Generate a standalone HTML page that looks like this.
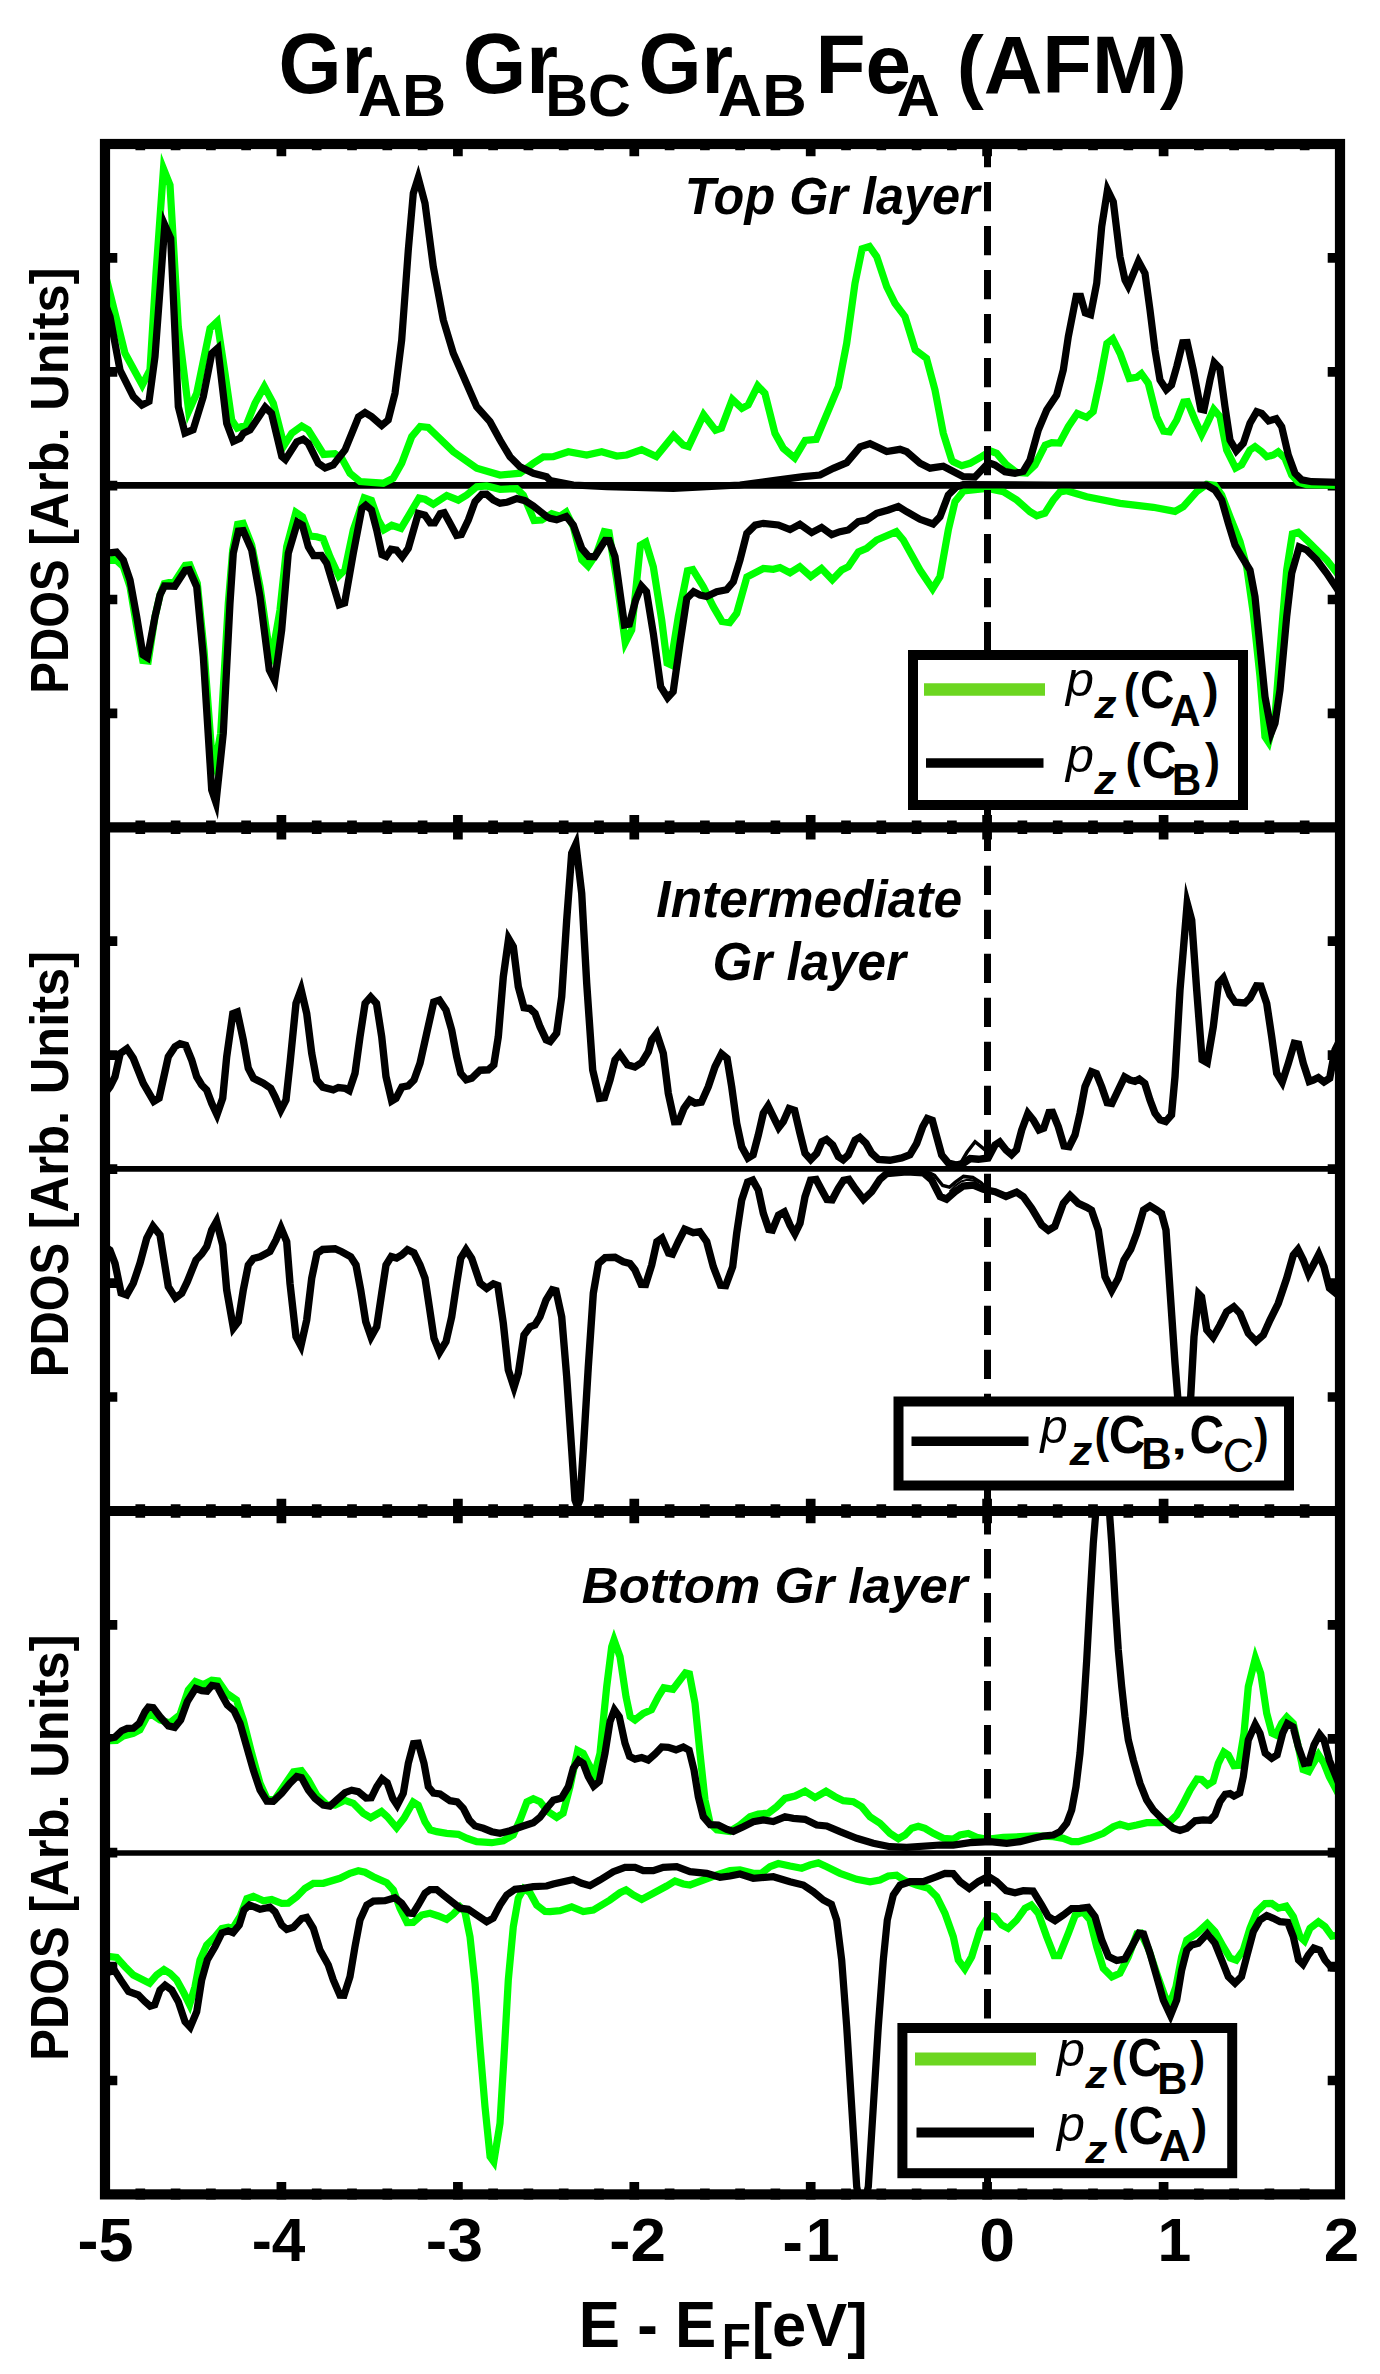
<!DOCTYPE html>
<html><head><meta charset="utf-8"><title>PDOS</title>
<style>html,body{margin:0;padding:0;background:#fff}body{width:1380px;height:2374px;overflow:hidden}</style>
</head><body>
<svg width="1380" height="2374" viewBox="0 0 1380 2374" style="display:block">
<rect x="0" y="0" width="1380" height="2374" fill="#fff"/>
<defs>
<clipPath id="c1"><rect x="105.0" y="144.0" width="1235.0" height="683.3"/></clipPath>
<clipPath id="c2"><rect x="105.0" y="827.3" width="1235.0" height="683.7"/></clipPath>
<clipPath id="c3"><rect x="105.0" y="1511.0" width="1235.0" height="683.4000000000001"/></clipPath>
</defs>
<path d="M140.3,138.9V150.3M175.6,138.9V150.3M210.9,138.9V150.3M246.1,138.9V150.3M281.4,138.9V156.3M316.7,138.9V150.3M352.0,138.9V150.3M387.3,138.9V150.3M422.6,138.9V150.3M457.9,138.9V156.3M493.1,138.9V150.3M528.4,138.9V150.3M563.7,138.9V150.3M599.0,138.9V150.3M634.3,138.9V156.3M669.6,138.9V150.3M704.9,138.9V150.3M740.1,138.9V150.3M775.4,138.9V150.3M810.7,138.9V156.3M846.0,138.9V150.3M881.3,138.9V150.3M916.6,138.9V150.3M951.9,138.9V150.3M987.1,138.9V156.3M1022.4,138.9V150.3M1057.7,138.9V150.3M1093.0,138.9V150.3M1128.3,138.9V150.3M1163.6,138.9V156.3M1198.9,138.9V150.3M1234.1,138.9V150.3M1269.4,138.9V150.3M1304.7,138.9V150.3M140.3,820.6V834.0M175.6,820.6V834.0M210.9,820.6V834.0M246.1,820.6V834.0M281.4,815.0V839.6M316.7,820.6V834.0M352.0,820.6V834.0M387.3,820.6V834.0M422.6,820.6V834.0M457.9,815.0V839.6M493.1,820.6V834.0M528.4,820.6V834.0M563.7,820.6V834.0M599.0,820.6V834.0M634.3,815.0V839.6M669.6,820.6V834.0M704.9,820.6V834.0M740.1,820.6V834.0M775.4,820.6V834.0M810.7,815.0V839.6M846.0,820.6V834.0M881.3,820.6V834.0M916.6,820.6V834.0M951.9,820.6V834.0M987.1,815.0V839.6M1022.4,820.6V834.0M1057.7,820.6V834.0M1093.0,820.6V834.0M1128.3,820.6V834.0M1163.6,815.0V839.6M1198.9,820.6V834.0M1234.1,820.6V834.0M1269.4,820.6V834.0M1304.7,820.6V834.0M140.3,1504.3V1517.7M175.6,1504.3V1517.7M210.9,1504.3V1517.7M246.1,1504.3V1517.7M281.4,1498.7V1523.3M316.7,1504.3V1517.7M352.0,1504.3V1517.7M387.3,1504.3V1517.7M422.6,1504.3V1517.7M457.9,1498.7V1523.3M493.1,1504.3V1517.7M528.4,1504.3V1517.7M563.7,1504.3V1517.7M599.0,1504.3V1517.7M634.3,1498.7V1523.3M669.6,1504.3V1517.7M704.9,1504.3V1517.7M740.1,1504.3V1517.7M775.4,1504.3V1517.7M810.7,1498.7V1523.3M846.0,1504.3V1517.7M881.3,1504.3V1517.7M916.6,1504.3V1517.7M951.9,1504.3V1517.7M987.1,1498.7V1523.3M1022.4,1504.3V1517.7M1057.7,1504.3V1517.7M1093.0,1504.3V1517.7M1128.3,1504.3V1517.7M1163.6,1498.7V1523.3M1198.9,1504.3V1517.7M1234.1,1504.3V1517.7M1269.4,1504.3V1517.7M1304.7,1504.3V1517.7M140.3,2188.5V2199.5M175.6,2188.5V2199.5M210.9,2188.5V2199.5M246.1,2188.5V2199.5M281.4,2182.1V2199.5M316.7,2188.5V2199.5M352.0,2188.5V2199.5M387.3,2188.5V2199.5M422.6,2188.5V2199.5M457.9,2182.1V2199.5M493.1,2188.5V2199.5M528.4,2188.5V2199.5M563.7,2188.5V2199.5M599.0,2188.5V2199.5M634.3,2182.1V2199.5M669.6,2188.5V2199.5M704.9,2188.5V2199.5M740.1,2188.5V2199.5M775.4,2188.5V2199.5M810.7,2182.1V2199.5M846.0,2188.5V2199.5M881.3,2188.5V2199.5M916.6,2188.5V2199.5M951.9,2188.5V2199.5M987.1,2182.1V2199.5M1022.4,2188.5V2199.5M1057.7,2188.5V2199.5M1093.0,2188.5V2199.5M1128.3,2188.5V2199.5M1163.6,2182.1V2199.5M1198.9,2188.5V2199.5M1234.1,2188.5V2199.5M1269.4,2188.5V2199.5M1304.7,2188.5V2199.5" stroke="#000" stroke-width="9.7" fill="none"/>
<path d="M109.1,257.9h8.2M1335.9,257.9h-8.2M109.1,371.8h8.2M1335.9,371.8h-8.2M109.1,485.6h8.2M1335.9,485.6h-8.2M109.1,599.5h8.2M1335.9,599.5h-8.2M109.1,713.4h8.2M1335.9,713.4h-8.2M109.1,941.2h8.2M1335.9,941.2h-8.2M109.1,1055.2h8.2M1335.9,1055.2h-8.2M109.1,1169.2h8.2M1335.9,1169.2h-8.2M109.1,1283.1h8.2M1335.9,1283.1h-8.2M109.1,1397.0h8.2M1335.9,1397.0h-8.2M109.1,1624.9h8.2M1335.9,1624.9h-8.2M109.1,1738.8h8.2M1335.9,1738.8h-8.2M109.1,1852.7h8.2M1335.9,1852.7h-8.2M109.1,1966.6h8.2M1335.9,1966.6h-8.2M109.1,2080.5h8.2M1335.9,2080.5h-8.2" stroke="#000" stroke-width="9.7" fill="none"/>
<line x1="105.0" x2="1340.0" y1="485.4" y2="485.4" stroke="#000" stroke-width="6.6"/>
<line x1="105.0" x2="1340.0" y1="1168.9" y2="1168.9" stroke="#000" stroke-width="5.9"/>
<line x1="105.0" x2="1340.0" y1="1853.0" y2="1853.0" stroke="#000" stroke-width="5.7"/>
<path d="M105.0,273.3 L116.7,320.0 L125.0,353.3 L142.3,385.0 L150.0,370.0 L156.0,273.3 L163.5,168.8 L170.0,185.0 L178.3,326.7 L188.7,411.1 L196.7,393.3 L210.1,328.4 L217.2,321.6 L225.0,373.3 L231.7,420.0 L237.2,428.2 L246.4,424.8 L255.0,403.3 L264.3,386.6 L273.3,403.3 L284.1,445.4 L291.7,433.3 L301.7,426.1 L308.3,430.0 L323.7,454.4 L334.9,453.6 L341.7,458.3 L350.0,473.3 L360.1,481.5 L383.3,483.2 L393.2,478.2 L401.7,463.3 L411.7,436.7 L420.2,426.5 L428.2,427.5 L453.3,451.7 L476.7,468.3 L500.0,475.0 L520.0,473.2 L533.3,463.3 L543.4,456.8 L553.3,456.7 L568.3,451.7 L586.7,455.0 L601.7,451.7 L616.7,456.0 L626.7,455.0 L641.7,449.6 L656.3,456.5 L673.5,435.4 L683.3,445.0 L688.6,446.6 L703.6,414.7 L715.5,430.2 L721.4,428.1 L732.3,399.3 L741.9,408.4 L748.2,404.9 L757.7,385.8 L764.9,393.4 L775.0,433.3 L783.3,448.3 L794.7,457.9 L805.2,440.4 L816.2,439.4 L830.0,406.7 L838.3,386.7 L846.7,343.3 L855.0,283.3 L862.1,248.8 L869.5,246.5 L876.7,256.7 L886.7,286.7 L895.0,303.3 L905.0,316.7 L915.2,349.9 L926.5,358.4 L935.0,390.0 L943.3,433.3 L951.7,460.0 L953.3,461.7 L961.7,465.7 L970.0,463.3 L981.7,456.7 L990.7,451.1 L996.7,453.3 L1006.7,465.0 L1016.7,472.5 L1026.6,473.0 L1035.0,465.0 L1045.2,445.2 L1051.7,442.7 L1059.5,443.1 L1068.3,426.7 L1077.2,413.5 L1086.5,417.4 L1093.2,411.6 L1100.0,380.0 L1106.9,343.5 L1112.8,338.8 L1120.0,353.3 L1129.3,378.4 L1136.7,377.3 L1141.4,373.6 L1148.3,383.3 L1156.7,416.7 L1163.6,431.2 L1169.6,431.8 L1176.7,420.0 L1183.7,402.1 L1187.4,401.6 L1195.0,420.0 L1201.7,434.5 L1207.3,423.3 L1213.7,409.4 L1220.0,416.7 L1226.7,450.0 L1235.6,468.1 L1241.6,464.9 L1250.0,450.0 L1255.0,446.6 L1261.7,451.7 L1266.8,456.8 L1273.3,455.0 L1278.2,451.8 L1285.0,458.3 L1291.7,475.0 L1298.4,482.2 L1306.7,484.7 L1340.0,485.3" fill="none" stroke="#00ff00" stroke-width="7.25" stroke-linejoin="miter" stroke-miterlimit="10" clip-path="url(#c1)" />
<path d="M105.0,561.7 L114.9,558.9 L123.3,566.7 L130.0,586.7 L136.7,626.7 L142.8,660.5 L148.2,661.1 L155.0,616.7 L160.0,595.0 L164.3,583.7 L174.8,581.4 L185.2,565.3 L189.8,564.8 L197.3,583.3 L204.0,650.0 L211.7,753.3 L215.0,764.2 L220.7,733.3 L228.3,603.3 L232.7,550.0 L237.6,524.3 L243.1,523.3 L251.7,545.0 L260.0,586.7 L268.3,643.3 L272.4,654.1 L280.0,610.0 L286.7,546.7 L295.9,512.3 L302.5,516.8 L309.8,536.0 L316.7,536.7 L323.1,538.6 L330.0,556.7 L338.8,575.8 L344.9,569.9 L353.3,530.0 L364.2,497.8 L371.4,500.3 L378.3,520.0 L383.9,529.8 L391.7,525.3 L401.0,528.3 L410.0,513.3 L419.0,498.1 L425.0,499.3 L433.3,504.2 L446.7,495.5 L458.3,500.2 L466.7,495.0 L476.7,486.8 L486.7,486.0 L500.0,489.3 L516.6,488.6 L523.3,495.0 L534.1,520.4 L541.7,520.0 L551.7,513.7 L559.9,516.3 L566.1,512.1 L573.3,526.7 L581.8,559.9 L588.1,566.1 L596.7,553.3 L604.3,531.6 L609.0,532.6 L616.7,580.0 L625.3,642.5 L631.7,630.0 L640.4,545.2 L645.8,542.1 L653.3,566.7 L661.7,620.0 L667.1,663.0 L670.6,664.6 L678.3,616.7 L687.5,570.8 L692.8,569.6 L703.3,586.7 L713.3,606.7 L721.9,621.4 L729.7,622.6 L736.7,613.3 L746.9,576.9 L763.4,568.5 L773.3,569.3 L780.0,567.6 L790.0,572.8 L799.8,566.7 L810.8,576.5 L821.5,568.5 L832.3,579.7 L841.7,570.0 L848.3,566.7 L858.4,551.8 L866.7,548.3 L876.7,540.0 L896.3,531.6 L903.3,540.0 L920.0,570.0 L932.6,588.8 L940.0,576.7 L948.3,530.0 L955.0,501.7 L963.5,490.9 L986.7,488.3 L1003.3,491.7 L1016.7,500.0 L1030.0,511.7 L1036.7,515.7 L1044.9,513.1 L1053.3,500.0 L1060.1,491.9 L1066.7,490.7 L1086.7,496.7 L1120.0,503.3 L1153.3,507.3 L1175.0,511.4 L1183.3,506.7 L1196.7,491.7 L1206.7,484.3 L1214.8,485.3 L1221.7,495.0 L1230.0,516.7 L1240.0,541.7 L1246.7,566.7 L1253.3,613.3 L1260.0,676.7 L1265.0,736.7 L1268.6,742.2 L1275.0,716.7 L1281.7,630.0 L1286.7,570.0 L1292.4,533.9 L1298.2,532.2 L1306.7,540.0 L1316.7,550.0 L1326.7,560.0 L1340.0,576.7" fill="none" stroke="#00ff00" stroke-width="7.25" stroke-linejoin="miter" stroke-miterlimit="10" clip-path="url(#c1)" />
<path d="M105.0,303.3 L110.0,316.7 L120.0,370.0 L133.3,396.7 L141.9,405.1 L149.0,401.4 L155.0,356.7 L164.8,225.0 L170.7,238.3 L178.3,406.7 L185.0,433.1 L193.1,429.7 L203.3,396.7 L211.8,353.4 L217.8,348.1 L226.7,423.3 L233.4,441.4 L240.0,438.3 L243.3,433.3 L250.0,430.0 L256.7,420.0 L265.2,407.2 L271.5,413.4 L281.8,456.6 L285.4,459.6 L296.8,441.8 L303.2,439.1 L308.3,443.3 L318.3,463.3 L325.1,467.9 L333.2,464.9 L345.0,450.0 L358.5,416.8 L365.0,412.6 L371.7,416.7 L381.7,425.5 L388.2,419.9 L395.0,393.3 L401.7,340.0 L408.3,250.0 L413.3,193.3 L418.2,177.8 L425.0,203.3 L433.3,266.7 L443.3,320.0 L453.3,353.3 L476.7,406.7 L490.0,421.7 L500.0,440.0 L510.0,456.7 L520.0,466.7 L533.3,473.3 L546.6,476.8 L550.1,480.5 L573.3,485.0 L606.7,486.7 L673.3,488.3 L740.0,485.0 L773.3,480.7 L803.3,476.7 L820.0,475.0 L833.3,468.3 L846.7,462.7 L860.1,446.8 L870.0,443.6 L876.7,446.7 L886.7,451.5 L900.0,449.3 L906.7,451.7 L920.0,463.3 L930.0,468.2 L943.3,466.2 L956.7,473.3 L963.3,476.7 L974.9,477.0 L981.7,470.0 L988.6,462.7 L995.0,465.0 L1005.0,471.7 L1015.0,473.3 L1023.2,471.4 L1030.0,460.0 L1038.3,430.0 L1046.7,410.0 L1056.7,395.0 L1063.3,370.0 L1068.3,336.7 L1076.2,296.4 L1080.6,296.4 L1085.3,313.0 L1090.6,314.8 L1096.7,283.3 L1101.7,226.7 L1107.5,189.9 L1113.3,201.7 L1120.0,256.7 L1125.0,280.0 L1128.2,286.0 L1138.5,261.3 L1145.0,273.3 L1150.0,310.0 L1155.0,350.0 L1160.0,380.0 L1166.3,389.6 L1171.5,384.9 L1176.7,366.7 L1182.7,342.8 L1187.2,342.5 L1193.3,370.0 L1200.8,409.3 L1203.9,410.0 L1210.0,380.0 L1214.2,362.5 L1219.8,368.4 L1225.0,406.7 L1230.0,440.0 L1236.3,450.9 L1243.3,443.3 L1250.0,423.3 L1256.7,411.7 L1261.7,413.3 L1268.6,420.9 L1276.2,418.7 L1281.7,426.7 L1288.3,455.0 L1295.0,473.3 L1301.7,479.9 L1311.7,481.7 L1340.0,482.3" fill="none" stroke="#000" stroke-width="7.25" stroke-linejoin="miter" stroke-miterlimit="10" clip-path="url(#c1)" />
<path d="M105.0,553.3 L116.5,552.1 L123.3,560.0 L130.0,580.0 L136.7,616.7 L143.0,654.8 L147.3,657.6 L155.0,616.7 L160.0,595.0 L164.5,585.9 L174.8,586.2 L185.2,570.3 L189.2,569.8 L196.7,586.7 L203.3,656.7 L211.7,790.0 L216.0,802.7 L223.3,733.3 L230.0,603.3 L233.3,553.3 L238.4,531.2 L243.2,530.7 L251.7,550.0 L260.0,596.7 L269.3,670.0 L274.7,680.7 L281.7,630.0 L288.3,553.3 L297.5,522.2 L302.4,525.2 L308.3,546.7 L313.6,555.5 L321.4,555.4 L326.7,563.3 L339.2,604.9 L344.6,603.0 L353.3,553.3 L361.9,508.4 L365.7,505.2 L371.5,510.1 L376.7,530.0 L382.0,554.7 L386.2,556.5 L391.1,549.3 L396.5,550.2 L402.2,557.0 L408.3,548.3 L418.3,513.4 L424.9,515.2 L430.2,522.9 L434.7,522.9 L440.2,513.6 L444.2,512.7 L450.0,523.3 L456.6,535.4 L461.4,534.6 L468.3,520.0 L475.0,501.7 L481.8,494.3 L486.6,494.2 L493.3,500.0 L500.0,503.2 L506.7,502.3 L516.7,498.5 L525.0,500.7 L533.3,506.0 L546.7,516.7 L550.0,518.3 L556.7,519.8 L566.3,516.4 L573.3,525.0 L581.7,548.3 L588.5,556.4 L594.7,556.8 L605.2,540.4 L609.2,540.5 L615.0,556.7 L624.5,625.1 L629.3,624.2 L635.7,600.0 L641.5,586.1 L646.5,591.7 L653.3,633.3 L660.7,686.7 L667.6,697.7 L673.2,691.6 L680.0,643.3 L686.8,598.4 L693.6,591.6 L700.0,595.0 L706.6,596.5 L716.7,591.7 L726.6,589.8 L733.3,581.7 L740.0,560.0 L746.8,533.4 L755.1,525.1 L763.3,523.3 L778.3,525.0 L790.0,529.6 L799.9,524.2 L811.7,532.6 L821.6,527.4 L831.7,534.6 L840.0,531.7 L848.3,530.0 L858.3,521.7 L866.7,520.0 L876.7,513.3 L888.3,510.0 L898.3,506.4 L906.7,511.7 L920.0,519.3 L933.1,524.0 L940.0,516.7 L948.3,495.0 L956.7,486.7 L963.3,484.7 L1053.3,485.0 L1206.6,485.1 L1215.0,490.0 L1221.7,500.0 L1228.3,523.3 L1235.0,545.0 L1241.7,556.7 L1250.0,570.0 L1255.0,596.7 L1260.0,646.7 L1265.0,696.7 L1271.5,732.1 L1275.0,723.3 L1280.0,690.0 L1286.7,616.7 L1291.7,573.3 L1299.2,546.9 L1306.7,550.0 L1316.7,560.0 L1326.7,573.3 L1340.0,593.3" fill="none" stroke="#000" stroke-width="7.25" stroke-linejoin="miter" stroke-miterlimit="10" clip-path="url(#c1)" />
<path d="M105.0,1093.3 L110.0,1086.7 L115.0,1076.7 L120.2,1053.5 L127.0,1048.7 L133.3,1058.3 L143.3,1083.3 L153.8,1101.3 L159.1,1098.1 L168.3,1056.7 L175.0,1046.7 L180.0,1043.7 L185.7,1045.3 L191.7,1060.0 L196.7,1076.7 L201.7,1085.0 L206.7,1090.0 L211.7,1103.3 L217.0,1114.7 L222.7,1098.3 L226.7,1056.7 L232.8,1013.7 L237.3,1012.0 L243.3,1040.0 L248.3,1068.3 L253.5,1078.2 L263.3,1083.3 L270.7,1088.3 L275.0,1096.7 L280.8,1110.1 L286.0,1100.0 L290.0,1063.3 L296.0,1003.3 L301.1,989.6 L306.7,1013.3 L311.7,1053.3 L316.7,1080.0 L322.8,1087.2 L333.3,1089.8 L338.4,1087.5 L345.0,1088.3 L349.2,1090.6 L355.0,1073.3 L360.0,1036.7 L365.1,1003.4 L370.7,997.1 L376.5,1003.4 L381.7,1036.7 L386.0,1076.7 L391.7,1100.9 L396.0,1098.3 L401.9,1087.0 L408.2,1085.8 L414.0,1080.0 L420.0,1063.3 L426.7,1033.3 L433.7,1002.0 L439.4,1000.1 L446.0,1010.0 L451.7,1030.0 L456.7,1056.7 L460.7,1073.3 L466.3,1079.8 L471.7,1078.3 L480.1,1070.2 L488.3,1069.8 L493.8,1064.9 L498.3,1036.7 L503.3,976.7 L508.6,938.7 L513.3,946.7 L518.3,986.7 L524.0,1007.6 L529.9,1008.5 L535.0,1013.3 L540.0,1026.7 L546.2,1039.8 L550.2,1041.5 L556.6,1033.3 L561.7,996.7 L566.7,920.0 L571.7,853.3 L575.9,844.1 L581.7,893.3 L586.7,983.3 L592.7,1070.0 L599.4,1098.4 L604.4,1097.6 L610.0,1080.0 L615.0,1060.0 L619.9,1054.1 L627.5,1064.8 L634.9,1067.0 L641.7,1062.7 L648.3,1051.7 L651.7,1040.0 L656.7,1033.4 L663.3,1053.3 L668.3,1093.3 L674.5,1121.8 L678.7,1121.7 L684.0,1108.3 L689.8,1100.2 L695.0,1103.1 L701.4,1102.2 L708.3,1086.7 L715.0,1066.7 L721.5,1053.9 L727.1,1058.5 L731.7,1086.7 L736.7,1123.3 L741.7,1146.7 L747.9,1158.0 L753.1,1154.8 L758.3,1135.0 L763.3,1113.3 L768.1,1106.0 L773.3,1116.7 L778.7,1127.6 L783.3,1121.7 L789.1,1108.5 L794.6,1110.4 L800.0,1133.3 L805.0,1153.3 L810.7,1159.6 L816.7,1153.3 L821.8,1141.8 L826.5,1139.5 L832.7,1145.0 L838.4,1156.6 L843.2,1159.8 L848.3,1155.0 L855.1,1140.1 L859.8,1137.4 L866.0,1143.3 L871.7,1153.3 L878.4,1159.5 L890.0,1160.3 L901.7,1158.0 L909.9,1154.8 L916.7,1143.3 L922.7,1126.7 L927.3,1118.5 L932.3,1120.3 L936.7,1136.7 L941.7,1155.0 L948.4,1163.2 L956.7,1165.0 L963.3,1163.3 L970.1,1158.6 L978.3,1159.3 L988.1,1158.0 L995.0,1145.0 L999.7,1141.9 L1006.0,1150.0 L1011.6,1154.7 L1016.5,1149.9 L1021.7,1130.0 L1027.9,1113.3 L1033.3,1120.0 L1039.0,1129.9 L1043.7,1128.1 L1049.0,1112.6 L1052.5,1112.4 L1058.3,1126.7 L1064.0,1146.0 L1069.2,1146.8 L1075.0,1135.0 L1080.0,1113.3 L1085.0,1086.7 L1091.5,1071.8 L1096.4,1073.6 L1101.7,1086.7 L1107.2,1102.7 L1111.9,1103.5 L1118.3,1090.0 L1124.6,1077.0 L1130.0,1080.0 L1135.0,1081.4 L1139.3,1079.2 L1144.8,1083.4 L1150.0,1100.0 L1155.0,1113.3 L1160.1,1119.9 L1165.7,1121.6 L1171.5,1114.9 L1175.0,1076.7 L1180.0,990.0 L1187.2,903.2 L1191.7,920.0 L1196.7,990.0 L1202.1,1059.7 L1207.2,1062.6 L1213.3,1026.7 L1218.5,983.4 L1223.4,978.0 L1230.0,995.0 L1235.2,1002.3 L1244.9,1003.0 L1250.0,998.3 L1256.5,985.9 L1260.9,986.1 L1266.7,1003.3 L1271.7,1036.7 L1276.7,1073.3 L1282.2,1082.3 L1288.3,1063.3 L1294.3,1043.3 L1298.6,1044.1 L1303.3,1063.3 L1309.2,1081.5 L1313.3,1080.0 L1318.3,1077.5 L1324.0,1081.9 L1329.7,1078.2 L1335.0,1050.0 L1340.0,1040.0" fill="none" stroke="#000" stroke-width="7.4" stroke-linejoin="miter" stroke-miterlimit="10" clip-path="url(#c2)" />
<path d="M105.0,1246.7 L109.9,1250.1 L115.0,1263.3 L121.1,1293.0 L126.7,1294.9 L133.3,1283.3 L140.0,1263.3 L146.7,1238.3 L153.0,1226.2 L160.0,1235.0 L164.0,1260.0 L168.3,1286.7 L175.4,1297.9 L181.7,1293.3 L187.3,1281.7 L196.0,1260.0 L201.7,1254.0 L206.7,1246.7 L211.7,1230.0 L216.6,1221.3 L222.7,1245.0 L226.7,1290.0 L233.4,1328.1 L238.3,1321.7 L243.3,1290.0 L248.3,1265.0 L253.4,1258.5 L260.0,1256.7 L269.9,1251.5 L276.0,1240.0 L281.0,1227.9 L286.7,1241.7 L290.0,1283.3 L296.0,1336.7 L300.9,1345.9 L306.7,1320.0 L311.7,1278.3 L316.9,1253.5 L322.7,1249.5 L335.0,1248.7 L341.7,1251.7 L350.7,1256.7 L356.0,1265.0 L360.7,1290.0 L365.7,1321.7 L371.0,1337.0 L376.7,1326.7 L381.7,1293.3 L386.0,1265.0 L391.3,1256.6 L396.6,1258.0 L401.7,1255.0 L407.5,1249.7 L413.9,1252.8 L420.0,1265.0 L425.0,1278.3 L429.3,1306.7 L434.0,1338.3 L439.6,1352.2 L446.0,1341.7 L451.7,1316.7 L456.7,1283.3 L460.7,1258.3 L466.0,1249.7 L471.7,1258.3 L480.1,1283.2 L486.7,1288.4 L493.4,1283.8 L497.8,1285.4 L503.3,1323.3 L508.3,1370.0 L514.0,1387.3 L518.3,1373.3 L524.0,1335.0 L530.1,1326.8 L534.9,1324.9 L540.0,1316.7 L546.0,1300.0 L552.3,1289.8 L556.0,1290.7 L561.7,1316.7 L566.7,1376.7 L571.7,1450.0 L575.0,1500.0 L577.4,1506.2 L580.0,1500.0 L583.3,1450.0 L588.3,1366.7 L593.3,1293.3 L598.5,1263.4 L605.1,1257.6 L615.0,1257.3 L623.3,1261.7 L629.9,1263.5 L635.0,1270.0 L641.2,1284.3 L645.6,1284.5 L651.7,1265.0 L656.9,1241.8 L662.0,1238.2 L668.6,1253.1 L672.5,1254.2 L678.3,1241.7 L684.7,1229.2 L693.3,1232.6 L699.7,1231.7 L706.7,1241.7 L713.3,1266.7 L720.5,1285.3 L725.7,1285.7 L732.7,1266.7 L736.7,1233.3 L741.7,1200.0 L747.6,1182.0 L752.7,1180.1 L758.3,1190.0 L763.3,1213.3 L768.8,1229.4 L772.4,1230.0 L778.5,1215.2 L784.3,1212.0 L790.0,1225.0 L794.9,1233.8 L800.0,1223.3 L805.0,1196.7 L810.6,1180.1 L816.1,1179.5 L821.7,1190.0 L826.9,1199.5 L832.2,1199.8 L838.3,1188.3 L843.5,1180.3 L848.9,1179.3 L855.0,1188.3 L863.5,1199.5 L871.7,1191.7 L880.0,1179.3 L886.7,1173.5 L906.7,1171.7 L923.3,1172.8 L931.7,1180.0 L940.2,1196.5 L946.5,1199.1 L955.0,1191.7 L963.3,1186.0 L973.3,1185.0 L983.3,1189.3 L995.0,1191.7 L1006.0,1196.4 L1016.6,1192.1 L1023.3,1196.7 L1031.7,1208.3 L1041.7,1225.0 L1048.4,1230.3 L1054.8,1226.5 L1063.3,1203.3 L1070.1,1195.4 L1078.3,1203.3 L1086.7,1207.3 L1091.5,1210.2 L1098.3,1230.0 L1105.0,1276.7 L1111.7,1290.4 L1118.3,1278.3 L1124.0,1260.0 L1130.7,1249.3 L1136.7,1233.3 L1143.5,1210.1 L1150.0,1205.9 L1156.7,1210.0 L1161.5,1213.5 L1166.0,1230.0 L1170.0,1290.0 L1175.0,1363.3 L1179.3,1416.7 L1183.3,1429.1 L1187.3,1416.7 L1190.7,1396.7 L1194.0,1336.7 L1198.7,1293.9 L1201.5,1296.8 L1206.8,1329.9 L1213.1,1337.3 L1220.0,1325.0 L1226.7,1311.7 L1233.8,1306.9 L1240.0,1313.3 L1248.3,1333.3 L1256.1,1341.3 L1263.3,1335.0 L1270.0,1320.0 L1278.3,1303.3 L1286.7,1278.3 L1293.3,1255.0 L1298.0,1249.5 L1303.3,1260.0 L1308.6,1273.9 L1313.3,1265.0 L1318.8,1254.3 L1324.0,1266.7 L1329.5,1288.2 L1340.0,1296.7" fill="none" stroke="#000" stroke-width="7.4" stroke-linejoin="miter" stroke-miterlimit="10" clip-path="url(#c2)" />
<path d="M954.2,1165.9 L959.9,1164.4 L967.0,1152.3 L975.1,1141.7 L983.8,1148.8 L989.0,1153.1 L993.0,1153.8" fill="none" stroke="#000" stroke-width="3.5" stroke-linejoin="miter" stroke-miterlimit="10" clip-path="url(#c2)" />
<path d="M924.1,1171.2 L929.9,1173.2 L934.5,1175.5 L942.7,1185.5 L949.5,1187.2 L955.4,1182.1 L963.5,1176.4 L972.8,1177.5 L980.9,1182.5 L985.5,1187.4" fill="none" stroke="#000" stroke-width="3.5" stroke-linejoin="miter" stroke-miterlimit="10" clip-path="url(#c2)" />
<path d="M949.6,1191.7 L955.4,1185.6 L961.2,1181.5 L967.0,1179.7 L973.9,1180.4 L978.6,1184.2" fill="none" stroke="#000" stroke-width="2" stroke-linejoin="miter" stroke-miterlimit="10" clip-path="url(#c2)" />
<path d="M105.0,1740.7 L110.0,1740.7 L116.6,1740.5 L123.3,1736.0 L133.3,1733.3 L139.9,1729.9 L146.8,1716.8 L151.6,1714.2 L160.0,1720.0 L169.9,1722.9 L179.9,1714.9 L188.3,1690.0 L195.4,1681.5 L203.3,1684.6 L211.7,1680.2 L218.2,1681.0 L226.7,1693.3 L236.5,1700.1 L243.3,1720.0 L251.7,1753.3 L260.0,1783.3 L267.2,1799.3 L274.8,1799.5 L283.3,1786.7 L293.5,1771.9 L301.4,1770.7 L308.3,1780.0 L316.7,1795.0 L326.8,1804.8 L335.0,1805.0 L345.0,1800.3 L353.3,1803.3 L363.3,1813.3 L370.7,1817.7 L381.5,1811.5 L387.3,1816.7 L396.6,1827.8 L404.0,1818.3 L413.2,1802.0 L418.2,1805.1 L425.0,1821.7 L430.2,1829.8 L436.7,1831.7 L446.7,1833.3 L458.3,1834.3 L466.7,1838.3 L476.7,1841.7 L491.7,1842.7 L503.3,1840.7 L513.2,1834.9 L520.0,1820.0 L526.9,1801.9 L533.3,1798.7 L540.0,1801.7 L548.3,1811.7 L556.7,1817.3 L563.1,1813.2 L570.0,1786.7 L577.7,1750.5 L583.2,1753.5 L588.3,1763.3 L594.4,1774.6 L600.0,1753.3 L606.7,1686.7 L611.7,1646.7 L614.0,1639.8 L620.0,1656.7 L626.0,1696.7 L630.2,1716.5 L635.0,1719.9 L643.3,1713.3 L651.5,1709.8 L658.3,1696.7 L663.8,1687.8 L673.0,1689.3 L680.0,1680.0 L685.4,1672.8 L689.4,1673.9 L695.0,1703.3 L700.0,1753.3 L705.0,1800.0 L710.1,1823.3 L716.8,1829.8 L729.9,1831.4 L740.0,1825.0 L750.0,1816.7 L758.3,1814.0 L768.3,1813.2 L776.7,1806.7 L785.1,1798.4 L795.0,1796.0 L805.0,1791.2 L815.0,1797.6 L826.0,1791.3 L835.0,1796.7 L843.3,1800.7 L853.3,1801.7 L861.7,1806.7 L870.0,1816.7 L880.0,1823.3 L890.0,1833.3 L898.4,1838.7 L905.0,1835.0 L911.7,1828.3 L918.3,1826.2 L925.0,1828.3 L933.3,1833.3 L943.3,1838.3 L953.3,1839.1 L960.0,1835.0 L968.3,1833.5 L976.7,1837.3 L986.7,1839.3 L1003.3,1837.3 L1020.0,1836.7 L1036.7,1836.0 L1053.3,1836.7 L1063.3,1838.3 L1071.7,1841.7 L1078.3,1841.7 L1090.0,1838.3 L1103.3,1833.3 L1113.3,1826.7 L1120.0,1824.2 L1128.3,1826.7 L1136.7,1825.0 L1146.7,1822.7 L1160.0,1822.7 L1169.9,1821.5 L1176.7,1815.0 L1183.3,1803.3 L1190.0,1790.0 L1197.0,1779.1 L1201.6,1779.5 L1207.5,1784.9 L1213.1,1781.5 L1218.3,1763.3 L1223.9,1752.0 L1228.3,1755.0 L1233.9,1765.7 L1238.7,1765.3 L1244.0,1733.3 L1248.3,1686.7 L1255.4,1658.2 L1260.7,1673.3 L1266.7,1713.3 L1272.0,1733.1 L1276.0,1734.9 L1281.7,1723.3 L1286.8,1717.1 L1293.2,1723.4 L1298.3,1746.7 L1303.1,1769.6 L1308.7,1771.6 L1313.3,1763.3 L1318.4,1754.6 L1324.0,1763.3 L1329.3,1776.7 L1340.0,1796.7" fill="none" stroke="#00ff00" stroke-width="7.25" stroke-linejoin="miter" stroke-miterlimit="10" clip-path="url(#c3)" />
<path d="M105.0,1956.7 L110.0,1956.7 L116.6,1957.5 L125.0,1966.7 L133.3,1975.0 L141.7,1979.3 L149.6,1983.2 L156.7,1975.0 L164.0,1969.6 L170.0,1973.3 L176.7,1980.0 L184.0,1993.3 L189.6,2004.6 L195.0,1986.7 L200.0,1960.0 L206.7,1945.0 L215.0,1936.7 L221.8,1928.5 L228.3,1927.3 L232.7,1928.5 L240.0,1916.7 L246.9,1898.6 L253.3,1896.3 L263.4,1900.8 L271.7,1899.5 L281.7,1903.3 L288.3,1903.2 L296.7,1896.7 L305.0,1888.3 L313.4,1883.4 L323.3,1883.3 L340.0,1878.3 L350.0,1873.3 L358.3,1870.8 L365.0,1872.3 L373.3,1876.7 L386.7,1882.7 L393.3,1890.0 L400.0,1908.3 L407.1,1922.5 L413.2,1922.4 L421.7,1915.0 L430.0,1913.3 L438.3,1916.0 L446.6,1919.4 L453.3,1914.0 L460.0,1907.0 L464.9,1911.7 L470.0,1936.7 L475.0,1983.3 L480.0,2046.7 L485.0,2106.7 L490.1,2156.6 L493.8,2161.8 L500.0,2123.3 L504.0,2056.7 L508.3,1980.0 L513.3,1926.7 L518.3,1898.3 L523.8,1888.6 L530.0,1892.7 L536.7,1905.0 L545.1,1911.5 L550.0,1911.7 L560.0,1910.7 L571.7,1906.9 L583.3,1911.5 L593.3,1910.0 L610.0,1900.0 L620.0,1892.7 L626.0,1889.9 L633.3,1895.0 L641.7,1899.5 L653.3,1893.3 L666.7,1886.0 L675.0,1881.0 L683.3,1884.0 L690.0,1885.0 L703.3,1880.0 L716.7,1875.0 L730.0,1870.7 L740.0,1870.0 L753.3,1873.3 L761.6,1873.2 L770.0,1866.7 L778.3,1863.5 L790.0,1866.0 L801.7,1868.2 L810.0,1865.0 L818.3,1862.9 L826.7,1866.7 L840.0,1873.3 L856.7,1879.3 L870.0,1881.7 L880.0,1880.0 L888.3,1876.0 L896.6,1875.2 L905.0,1880.7 L916.7,1885.0 L928.3,1888.3 L936.7,1896.7 L945.0,1913.3 L953.3,1936.7 L958.3,1960.0 L964.8,1968.9 L971.7,1956.7 L980.0,1930.0 L988.9,1915.4 L994.9,1916.8 L1001.7,1925.0 L1008.1,1928.4 L1016.7,1920.0 L1025.0,1908.3 L1031.3,1905.1 L1038.3,1913.3 L1046.7,1936.7 L1054.1,1955.6 L1059.3,1955.6 L1068.3,1933.3 L1075.2,1915.2 L1082.9,1911.7 L1090.0,1920.0 L1096.7,1946.7 L1103.3,1968.3 L1111.9,1976.9 L1119.9,1973.2 L1128.3,1956.7 L1137.0,1933.8 L1140.9,1933.2 L1148.3,1948.3 L1156.7,1973.3 L1165.0,1996.7 L1170.1,2003.4 L1176.0,1986.7 L1181.7,1956.7 L1186.8,1940.1 L1196.7,1933.3 L1207.3,1923.6 L1215.0,1931.7 L1223.3,1946.7 L1230.2,1958.1 L1236.2,1960.1 L1243.3,1950.0 L1250.0,1928.3 L1256.7,1911.7 L1265.1,1903.6 L1271.6,1903.5 L1278.4,1908.0 L1286.2,1906.2 L1293.3,1916.7 L1300.0,1936.7 L1304.5,1940.9 L1310.0,1928.3 L1318.4,1921.8 L1325.0,1926.7 L1331.9,1936.1 L1340.0,1935.0" fill="none" stroke="#00ff00" stroke-width="7.25" stroke-linejoin="miter" stroke-miterlimit="10" clip-path="url(#c3)" />
<path d="M105.0,1739.3 L110.0,1738.3 L114.9,1737.2 L121.7,1730.7 L127.3,1728.3 L133.3,1728.2 L139.3,1723.3 L145.0,1711.7 L148.5,1707.1 L153.2,1707.6 L160.0,1716.7 L168.4,1725.9 L174.7,1727.4 L180.7,1720.0 L187.3,1701.7 L195.6,1688.4 L201.7,1690.7 L207.1,1691.2 L211.9,1685.5 L217.1,1686.3 L222.7,1696.7 L227.3,1705.0 L234.0,1710.7 L240.0,1723.3 L246.7,1746.7 L253.3,1770.0 L260.0,1790.0 L266.9,1801.2 L273.2,1801.4 L281.7,1793.3 L290.0,1783.3 L296.8,1776.5 L301.5,1777.6 L308.3,1790.0 L315.0,1798.3 L323.3,1805.0 L329.9,1806.2 L336.7,1800.0 L345.0,1792.7 L351.7,1790.2 L358.3,1791.7 L366.1,1798.1 L371.3,1797.8 L376.7,1786.7 L382.0,1778.7 L387.2,1782.8 L392.7,1798.3 L397.2,1805.2 L403.3,1793.3 L408.3,1763.3 L413.5,1743.7 L418.3,1743.2 L424.0,1763.3 L428.3,1786.7 L433.5,1793.1 L440.0,1794.0 L450.0,1800.7 L457.2,1801.8 L463.3,1808.3 L469.3,1820.0 L475.0,1825.9 L483.3,1828.3 L491.7,1831.7 L500.0,1833.3 L510.0,1830.7 L523.3,1826.0 L533.3,1822.7 L540.0,1817.3 L546.7,1808.3 L553.4,1800.2 L561.5,1798.1 L568.3,1786.7 L573.3,1768.3 L578.7,1760.3 L583.2,1763.4 L588.3,1776.7 L593.7,1786.2 L599.2,1781.6 L605.0,1753.3 L610.0,1721.7 L614.4,1709.9 L619.3,1716.7 L625.0,1743.3 L629.6,1756.5 L635.0,1759.1 L641.7,1757.5 L648.2,1760.0 L655.0,1754.0 L661.8,1747.0 L668.3,1747.3 L676.0,1749.8 L683.3,1747.0 L689.1,1750.2 L694.0,1770.0 L698.3,1796.7 L703.3,1816.7 L710.1,1824.7 L718.3,1825.0 L726.7,1829.3 L733.3,1831.4 L743.3,1826.7 L753.3,1821.7 L763.3,1820.0 L773.3,1821.5 L785.0,1816.8 L793.3,1818.3 L805.0,1819.3 L816.7,1825.0 L826.7,1826.0 L840.0,1831.7 L856.7,1838.3 L873.3,1843.3 L890.0,1846.7 L906.7,1847.3 L940.0,1845.0 L953.3,1845.0 L970.0,1842.7 L990.0,1841.7 L1006.7,1843.3 L1020.0,1841.7 L1033.3,1838.3 L1043.3,1836.0 L1053.3,1835.0 L1060.0,1831.7 L1066.7,1823.3 L1071.7,1810.0 L1076.0,1786.7 L1080.0,1753.3 L1083.3,1713.3 L1086.7,1660.0 L1090.0,1600.0 L1093.3,1543.3 L1096.0,1510.0 L1099.5,1494.8 L1105.5,1494.8 L1109.3,1510.0 L1111.7,1543.3 L1115.0,1600.0 L1118.3,1650.0 L1121.7,1686.7 L1125.0,1716.7 L1128.3,1740.0 L1133.3,1760.0 L1140.0,1783.3 L1146.7,1800.0 L1153.3,1810.0 L1163.3,1820.0 L1173.3,1828.3 L1180.0,1830.5 L1186.7,1828.3 L1195.1,1820.8 L1203.3,1820.0 L1209.9,1820.3 L1215.0,1815.0 L1220.0,1801.7 L1225.2,1794.3 L1230.0,1793.6 L1234.0,1796.1 L1239.7,1793.1 L1243.3,1776.7 L1248.3,1740.0 L1255.2,1724.4 L1260.0,1733.3 L1265.2,1753.2 L1271.7,1758.4 L1277.1,1754.9 L1282.7,1733.3 L1287.3,1723.6 L1293.1,1726.9 L1298.3,1746.7 L1304.3,1763.4 L1308.7,1762.7 L1314.0,1745.0 L1319.6,1734.4 L1324.0,1740.0 L1329.3,1760.0 L1340.0,1786.7" fill="none" stroke="#000" stroke-width="7.25" stroke-linejoin="miter" stroke-miterlimit="10" clip-path="url(#c3)" />
<path d="M105.0,1973.3 L110.0,1971.7 L114.4,1970.1 L120.7,1980.0 L128.5,1991.5 L138.3,1995.0 L145.0,2001.7 L150.1,2006.1 L154.7,2004.7 L160.0,1990.0 L165.1,1985.2 L171.7,1990.0 L178.3,2001.7 L185.0,2021.7 L190.2,2027.2 L196.7,2011.7 L201.7,1980.0 L207.3,1960.0 L215.0,1946.7 L221.9,1932.9 L228.3,1930.9 L233.0,1932.6 L239.3,1925.0 L244.0,1910.0 L249.5,1904.9 L260.0,1909.2 L269.9,1907.1 L275.0,1911.7 L281.7,1925.0 L286.8,1929.5 L293.3,1927.3 L301.7,1918.5 L306.7,1917.4 L313.3,1928.3 L320.0,1950.0 L328.3,1965.0 L333.3,1980.0 L339.9,1995.2 L344.0,1995.3 L350.0,1976.7 L355.0,1946.7 L360.0,1920.0 L366.8,1905.1 L373.4,1901.1 L385.0,1900.7 L394.9,1897.8 L401.7,1903.3 L408.5,1913.0 L413.0,1913.4 L418.3,1905.0 L425.0,1893.3 L430.1,1889.5 L436.6,1889.5 L443.3,1895.0 L451.7,1901.7 L460.1,1908.2 L468.3,1909.3 L476.7,1915.0 L486.7,1921.8 L493.2,1918.2 L500.0,1905.0 L506.7,1895.0 L515.0,1889.3 L523.3,1888.3 L533.3,1886.7 L546.7,1886.0 L553.3,1884.0 L563.3,1881.7 L573.3,1879.5 L581.7,1883.3 L590.0,1885.7 L600.0,1880.0 L613.3,1871.7 L625.0,1867.3 L635.0,1867.3 L643.3,1870.7 L653.3,1870.7 L663.3,1867.3 L676.7,1866.7 L690.0,1871.7 L706.7,1873.3 L720.0,1877.3 L730.0,1876.0 L740.0,1874.0 L753.3,1878.3 L773.3,1876.7 L790.0,1881.7 L803.3,1885.0 L813.3,1891.7 L823.3,1900.0 L831.4,1904.2 L836.7,1920.0 L841.7,1960.0 L846.7,2026.7 L851.7,2106.7 L856.7,2186.7 L860.5,2205.2 L863.9,2205.2 L868.3,2186.7 L873.3,2106.7 L878.3,2026.7 L883.3,1960.0 L887.3,1920.0 L893.3,1895.0 L900.1,1885.1 L910.0,1881.7 L923.3,1881.7 L936.7,1876.7 L945.0,1873.3 L953.2,1873.6 L960.0,1881.7 L969.3,1888.4 L978.3,1881.7 L988.3,1876.5 L996.7,1881.7 L1006.1,1890.6 L1015.0,1892.7 L1023.3,1890.7 L1033.1,1891.1 L1041.7,1905.0 L1048.3,1916.7 L1055.0,1920.7 L1063.3,1915.0 L1071.7,1908.5 L1080.0,1908.3 L1088.1,1907.3 L1095.0,1916.7 L1101.7,1940.0 L1108.5,1956.5 L1116.7,1960.5 L1124.8,1959.0 L1131.7,1946.7 L1139.0,1933.1 L1143.5,1933.9 L1150.0,1953.3 L1156.7,1976.7 L1163.3,2000.0 L1170.5,2015.4 L1176.7,2000.0 L1181.7,1970.0 L1186.8,1950.0 L1191.7,1945.0 L1198.3,1943.2 L1207.2,1933.8 L1215.0,1943.3 L1221.7,1960.0 L1228.3,1976.7 L1235.0,1983.1 L1241.5,1976.6 L1246.7,1956.7 L1253.3,1931.7 L1260.0,1920.0 L1266.7,1915.5 L1273.3,1918.3 L1280.0,1921.7 L1287.8,1922.4 L1293.3,1936.7 L1298.5,1959.9 L1303.0,1964.4 L1308.3,1955.0 L1313.8,1948.1 L1319.8,1950.2 L1325.0,1960.0 L1331.8,1968.0 L1340.0,1968.3" fill="none" stroke="#000" stroke-width="7.25" stroke-linejoin="miter" stroke-miterlimit="10" clip-path="url(#c3)" />
<line x1="987.5" x2="987.5" y1="827.3" y2="144.0" stroke="#000" stroke-width="7" stroke-dasharray="29.3 14.7"/>
<line x1="987.5" x2="987.5" y1="1511.0" y2="827.3" stroke="#000" stroke-width="7" stroke-dasharray="29.3 14.7"/>
<line x1="987.5" x2="987.5" y1="2194.4" y2="1511.0" stroke="#000" stroke-width="7" stroke-dasharray="29.3 14.7"/>
<rect x="105.0" y="144.0" width="1235.0" height="2050.4" fill="none" stroke="#000" stroke-width="10.2"/>
<line x1="105.0" x2="1340.0" y1="827.3" y2="827.3" stroke="#000" stroke-width="10.2"/>
<line x1="105.0" x2="1340.0" y1="1511.0" y2="1511.0" stroke="#000" stroke-width="10.2"/>
<rect x="913" y="655" width="330" height="150" fill="#fff" stroke="#000" stroke-width="10"/>
<line x1="924" x2="1045" y1="689.5" y2="689.5" stroke="#6cd620" stroke-width="12.5"/>
<line x1="926" x2="1043.5" y1="763" y2="763" stroke="#000" stroke-width="9.5"/>
<rect x="898.5" y="1401.5" width="390.5" height="84.0" fill="#fff" stroke="#000" stroke-width="10"/>
<line x1="911.5" x2="1028.5" y1="1441.3" y2="1441.3" stroke="#000" stroke-width="9.5"/>
<rect x="902.4" y="2028.0" width="329.80000000000007" height="145.19999999999982" fill="#fff" stroke="#000" stroke-width="10"/>
<line x1="915" x2="1036" y1="2059" y2="2059" stroke="#6cd620" stroke-width="13"/>
<line x1="916.5" x2="1034" y1="2132.5" y2="2132.5" stroke="#000" stroke-width="10"/>
<g><text transform="translate(278.38,93.15) scale(0.9559,1)" font-family="'Liberation Sans', sans-serif" font-size="84.75" font-weight="bold" font-style="normal" fill="#000">Gr</text><text transform="translate(357.77,115.70) scale(1.0334,1)" font-family="'Liberation Sans', sans-serif" font-size="59.16" font-weight="bold" font-style="normal" fill="#000">AB </text><text transform="translate(462.65,93.15) scale(0.9633,1)" font-family="'Liberation Sans', sans-serif" font-size="84.75" font-weight="bold" font-style="normal" fill="#000">Gr</text><text transform="translate(545.33,115.70) scale(1.0017,1)" font-family="'Liberation Sans', sans-serif" font-size="59.16" font-weight="bold" font-style="normal" fill="#000">BC </text><text transform="translate(638.38,93.15) scale(0.9559,1)" font-family="'Liberation Sans', sans-serif" font-size="84.75" font-weight="bold" font-style="normal" fill="#000">Gr</text><text transform="translate(717.76,115.70) scale(1.0421,1)" font-family="'Liberation Sans', sans-serif" font-size="59.16" font-weight="bold" font-style="normal" fill="#000">AB </text><text transform="translate(815.51,92.70) scale(0.9765,1)" font-family="'Liberation Sans', sans-serif" font-size="83.87" font-weight="bold" font-style="normal" fill="#000">Fe</text><text transform="translate(896.81,115.70) scale(1.0077,1)" font-family="'Liberation Sans', sans-serif" font-size="59.16" font-weight="bold" font-style="normal" fill="#000">A </text><text transform="translate(956.64,92.51) scale(1.0068,1)" font-family="'Liberation Sans', sans-serif" font-size="80.71" font-weight="bold" font-style="normal" fill="#000">(AFM)</text></g>
<text transform="translate(684.72,214.00) scale(0.9712,1)" font-family="'Liberation Sans', sans-serif" font-size="51.89" font-weight="bold" font-style="italic" fill="#000">Top Gr layer</text>
<g><text transform="translate(656.37,917.30) scale(0.9938,1)" font-family="'Liberation Sans', sans-serif" font-size="51.74" font-weight="bold" font-style="italic" fill="#000">Intermediate </text><text transform="translate(712.49,980.22) scale(0.9675,1)" font-family="'Liberation Sans', sans-serif" font-size="52.90" font-weight="bold" font-style="italic" fill="#000">Gr layer</text></g>
<text transform="translate(581.78,1602.70) scale(1.0037,1)" font-family="'Liberation Sans', sans-serif" font-size="50.87" font-weight="bold" font-style="italic" fill="#000">Bottom Gr layer</text>
<g><text transform="translate(67.7,690.5) rotate(-90) translate(-3.18,0.00) scale(0.8959,1)" font-family="'Liberation Sans', sans-serif" font-size="52.91" font-weight="bold" font-style="normal" fill="#000">PDOS </text><text transform="translate(67.7,690.5) rotate(-90) translate(144.66,0.00) scale(0.9596,1)" font-family="'Liberation Sans', sans-serif" font-size="52.91" font-weight="bold" font-style="normal" fill="#000">[Arb. </text><text transform="translate(67.7,690.5) rotate(-90) translate(279.77,0.00) scale(0.9558,1)" font-family="'Liberation Sans', sans-serif" font-size="52.91" font-weight="bold" font-style="normal" fill="#000">Units]</text></g>
<g><text transform="translate(67.7,1374.0) rotate(-90) translate(-3.18,0.00) scale(0.8959,1)" font-family="'Liberation Sans', sans-serif" font-size="52.91" font-weight="bold" font-style="normal" fill="#000">PDOS </text><text transform="translate(67.7,1374.0) rotate(-90) translate(144.66,0.00) scale(0.9596,1)" font-family="'Liberation Sans', sans-serif" font-size="52.91" font-weight="bold" font-style="normal" fill="#000">[Arb. </text><text transform="translate(67.7,1374.0) rotate(-90) translate(279.77,0.00) scale(0.9558,1)" font-family="'Liberation Sans', sans-serif" font-size="52.91" font-weight="bold" font-style="normal" fill="#000">Units]</text></g>
<g><text transform="translate(67.7,2057.5) rotate(-90) translate(-3.18,0.00) scale(0.8959,1)" font-family="'Liberation Sans', sans-serif" font-size="52.91" font-weight="bold" font-style="normal" fill="#000">PDOS </text><text transform="translate(67.7,2057.5) rotate(-90) translate(144.66,0.00) scale(0.9596,1)" font-family="'Liberation Sans', sans-serif" font-size="52.91" font-weight="bold" font-style="normal" fill="#000">[Arb. </text><text transform="translate(67.7,2057.5) rotate(-90) translate(279.77,0.00) scale(0.9558,1)" font-family="'Liberation Sans', sans-serif" font-size="52.91" font-weight="bold" font-style="normal" fill="#000">Units]</text></g>
<text transform="translate(77.55,2261.30) scale(1.0352,1)" font-family="'Liberation Sans', sans-serif" font-size="60.76" font-weight="bold" font-style="normal" fill="#000">-5</text>
<text transform="translate(251.65,2261.30) scale(0.9934,1)" font-family="'Liberation Sans', sans-serif" font-size="60.76" font-weight="bold" font-style="normal" fill="#000">-4</text>
<text transform="translate(425.79,2261.30) scale(1.0595,1)" font-family="'Liberation Sans', sans-serif" font-size="60.76" font-weight="bold" font-style="normal" fill="#000">-3</text>
<text transform="translate(609.22,2261.30) scale(1.0485,1)" font-family="'Liberation Sans', sans-serif" font-size="60.76" font-weight="bold" font-style="normal" fill="#000">-2</text>
<g><text transform="translate(782.62,2263.95) scale(0.9077,1)" font-family="'Liberation Sans', sans-serif" font-size="67.23" font-weight="bold" font-style="normal" fill="#000">-</text><text transform="translate(805.76,2261.30) scale(1.0000,1)" font-family="'Liberation Sans', sans-serif" font-size="60.76" font-weight="bold" font-style="normal" fill="#000">1</text></g>
<text transform="translate(979.19,2261.30) scale(1.0581,1)" font-family="'Liberation Sans', sans-serif" font-size="60.76" font-weight="bold" font-style="normal" fill="#000">0</text>
<text transform="translate(1157.46,2261.30) scale(1.0000,1)" font-family="'Liberation Sans', sans-serif" font-size="60.76" font-weight="bold" font-style="normal" fill="#000">1</text>
<text transform="translate(1323.77,2261.30) scale(1.0505,1)" font-family="'Liberation Sans', sans-serif" font-size="60.76" font-weight="bold" font-style="normal" fill="#000">2</text>
<g><text transform="translate(578.75,2346.60) scale(0.9589,1)" font-family="'Liberation Sans', sans-serif" font-size="64.53" font-weight="bold" font-style="normal" fill="#000">E - E</text><text transform="translate(721.80,2358.90) scale(0.9659,1)" font-family="'Liberation Sans', sans-serif" font-size="49.42" font-weight="bold" font-style="normal" fill="#000">F</text><text transform="translate(751.66,2345.87) scale(1.0193,1)" font-family="'Liberation Sans', sans-serif" font-size="60.24" font-weight="bold" font-style="normal" fill="#000">[eV]</text></g>
<g><text transform="translate(1065.96,695.82) scale(1.0476,1)" font-family="'Liberation Sans', sans-serif" font-size="47.99" font-weight="normal" font-style="italic" fill="#000">p</text><text transform="translate(1094.22,717.80) scale(1.1316,1)" font-family="'Liberation Sans', sans-serif" font-size="39.39" font-weight="bold" font-style="italic" fill="#000">z</text><text transform="translate(1123.83,707.03) scale(0.9474,1)" font-family="'Liberation Sans', sans-serif" font-size="47.91" font-weight="bold" font-style="normal" fill="#000">(</text><text transform="translate(1140.04,707.67) scale(0.9007,1)" font-family="'Liberation Sans', sans-serif" font-size="52.97" font-weight="bold" font-style="normal" fill="#000">C</text><text transform="translate(1170.04,725.80) scale(0.9485,1)" font-family="'Liberation Sans', sans-serif" font-size="44.62" font-weight="bold" font-style="normal" fill="#000">A</text><text transform="translate(1202.65,707.03) scale(0.9992,1)" font-family="'Liberation Sans', sans-serif" font-size="47.91" font-weight="bold" font-style="normal" fill="#000">)</text></g>
<g><text transform="translate(1065.96,771.88) scale(1.0332,1)" font-family="'Liberation Sans', sans-serif" font-size="48.66" font-weight="normal" font-style="italic" fill="#000">p</text><text transform="translate(1094.22,794.00) scale(1.1103,1)" font-family="'Liberation Sans', sans-serif" font-size="40.15" font-weight="bold" font-style="italic" fill="#000">z</text><text transform="translate(1125.43,777.17) scale(0.9411,1)" font-family="'Liberation Sans', sans-serif" font-size="48.23" font-weight="bold" font-style="normal" fill="#000">(</text><text transform="translate(1141.70,777.87) scale(0.9283,1)" font-family="'Liberation Sans', sans-serif" font-size="52.54" font-weight="bold" font-style="normal" fill="#000">C</text><text transform="translate(1172.09,794.80) scale(0.9045,1)" font-family="'Liberation Sans', sans-serif" font-size="44.77" font-weight="bold" font-style="normal" fill="#000">B</text><text transform="translate(1204.95,777.17) scale(0.9411,1)" font-family="'Liberation Sans', sans-serif" font-size="48.23" font-weight="bold" font-style="normal" fill="#000">)</text></g>
<g><text transform="translate(1040.52,1442.90) scale(1.0297,1)" font-family="'Liberation Sans', sans-serif" font-size="47.59" font-weight="normal" font-style="italic" fill="#000">p</text><text transform="translate(1069.53,1465.00) scale(1.1299,1)" font-family="'Liberation Sans', sans-serif" font-size="40.34" font-weight="bold" font-style="italic" fill="#000">z</text><text transform="translate(1094.48,1452.12) scale(0.9336,1)" font-family="'Liberation Sans', sans-serif" font-size="47.48" font-weight="bold" font-style="normal" fill="#000">(</text><text transform="translate(1108.82,1453.27) scale(0.9584,1)" font-family="'Liberation Sans', sans-serif" font-size="52.97" font-weight="bold" font-style="normal" fill="#000">C</text><text transform="translate(1141.29,1469.00) scale(0.9314,1)" font-family="'Liberation Sans', sans-serif" font-size="45.06" font-weight="bold" font-style="normal" fill="#000">B</text><text transform="translate(1171.35,1454.29) scale(1.5375,1)" font-family="'Liberation Sans', sans-serif" font-size="36.84" font-weight="bold" font-style="normal" fill="#000">,</text><text transform="translate(1189.43,1453.27) scale(0.9065,1)" font-family="'Liberation Sans', sans-serif" font-size="52.97" font-weight="bold" font-style="normal" fill="#000">C</text><text transform="translate(1222.69,1471.63) scale(0.9148,1)" font-family="'Liberation Sans', sans-serif" font-size="47.32" font-weight="normal" font-style="normal" fill="#000">C</text><text transform="translate(1254.26,1452.03) scale(0.9030,1)" font-family="'Liberation Sans', sans-serif" font-size="47.91" font-weight="bold" font-style="normal" fill="#000">)</text></g>
<g><text transform="translate(1057.06,2065.68) scale(1.0332,1)" font-family="'Liberation Sans', sans-serif" font-size="48.66" font-weight="normal" font-style="italic" fill="#000">p</text><text transform="translate(1085.22,2087.80) scale(1.1214,1)" font-family="'Liberation Sans', sans-serif" font-size="39.39" font-weight="bold" font-style="italic" fill="#000">z</text><text transform="translate(1111.43,2074.97) scale(0.9411,1)" font-family="'Liberation Sans', sans-serif" font-size="48.23" font-weight="bold" font-style="normal" fill="#000">(</text><text transform="translate(1127.75,2076.07) scale(0.8907,1)" font-family="'Liberation Sans', sans-serif" font-size="53.39" font-weight="bold" font-style="normal" fill="#000">C</text><text transform="translate(1157.20,2093.70) scale(0.9368,1)" font-family="'Liberation Sans', sans-serif" font-size="44.62" font-weight="bold" font-style="normal" fill="#000">B</text><text transform="translate(1190.25,2074.97) scale(0.9337,1)" font-family="'Liberation Sans', sans-serif" font-size="48.23" font-weight="bold" font-style="normal" fill="#000">)</text></g>
<g><text transform="translate(1057.06,2140.78) scale(1.0136,1)" font-family="'Liberation Sans', sans-serif" font-size="49.60" font-weight="normal" font-style="italic" fill="#000">p</text><text transform="translate(1085.22,2162.70) scale(1.1268,1)" font-family="'Liberation Sans', sans-serif" font-size="39.20" font-weight="bold" font-style="italic" fill="#000">z</text><text transform="translate(1113.12,2143.06) scale(0.8944,1)" font-family="'Liberation Sans', sans-serif" font-size="48.77" font-weight="bold" font-style="normal" fill="#000">(</text><text transform="translate(1128.50,2143.87) scale(0.9209,1)" font-family="'Liberation Sans', sans-serif" font-size="52.97" font-weight="bold" font-style="normal" fill="#000">C</text><text transform="translate(1158.91,2161.10) scale(0.9627,1)" font-family="'Liberation Sans', sans-serif" font-size="45.20" font-weight="bold" font-style="normal" fill="#000">A</text><text transform="translate(1191.85,2143.06) scale(0.9598,1)" font-family="'Liberation Sans', sans-serif" font-size="48.77" font-weight="bold" font-style="normal" fill="#000">)</text></g>
</svg>
</body></html>
